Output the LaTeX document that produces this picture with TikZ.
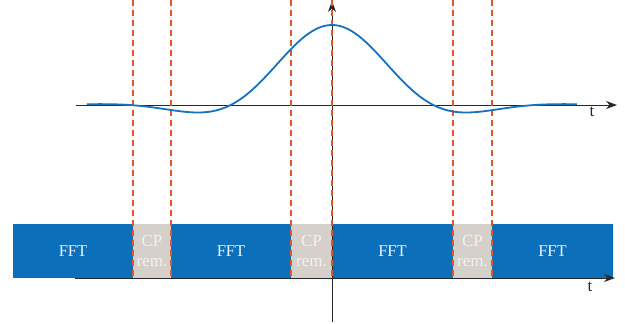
\documentclass[tikz,border=0pt]{standalone}
\usepackage{fontspec}
\setmainfont{Liberation Serif}
\usetikzlibrary{arrows.meta}
\definecolor{blk}{RGB}{12,111,185}
\definecolor{cpg}{RGB}{213,208,201}
\definecolor{red}{RGB}{226,86,46}
\definecolor{crv}{RGB}{22,114,189}
\definecolor{axc}{RGB}{40,40,40}
\definecolor{txt}{RGB}{242,242,242}
\tikzset{
  fftbox/.style={fill=blk, draw=none, inner sep=0pt, outer sep=0pt, minimum height=54pt, text=txt, font=\fontsize{16.5}{19}\selectfont},
  cpbox/.style={fill=cpg, draw=none, inner sep=0pt, outer sep=0pt, minimum height=54pt, text=txt, align=center, font=\fontsize{17}{19.5}\selectfont},
  axis/.style={draw=axc, line width=0.9pt, -{Stealth[length=11pt,width=8pt]}},
  guide/.style={draw=red, line width=2pt, dash pattern=on 5.5pt off 4.5pt},
  curve/.style={draw=crv, line width=1.8pt},
  tlab/.style={font=\fontsize{17}{19}\selectfont, text=axc, inner sep=0pt}
}
\begin{document}
\begin{tikzpicture}[x=1pt,y=-1pt]
\useasboundingbox (0,0) rectangle (625,324);
% blocks
\node[fftbox, minimum width=120pt] (f1) at (73,251) {FFT};
\node[cpbox, minimum width=38pt] (c1) at (152,251) {CP\\rem.};
\node[fftbox, minimum width=120pt] (f2) at (231,251) {FFT};
\node[cpbox, minimum width=41pt] (c2) at (311.5,251) {CP\\rem.};
\node[fftbox, minimum width=121pt] (f3) at (392.5,251) {FFT};
\node[cpbox, minimum width=39pt] (c3) at (472.5,251) {CP\\rem.};
\node[fftbox, minimum width=121pt] (f4) at (552.5,251) {FFT};
% axes
\coordinate (a0) at (76,105);
\coordinate (a1) at (617,105);
\coordinate (b0) at (75,278);
\coordinate (b1) at (615,278);
\coordinate (v0) at (332,322);
\coordinate (v1) at (332,1);
\draw[axis] (a0) -- (a1);
\draw[axis] (b0) -- (b1);
\draw[axis] (v0) -- (v1);
\node[tlab] (t1) at (592,112) {t};
\node[tlab] (t2) at (590,287) {t};
% guides
\foreach \gx/\nm in {133/g1,171/g2,291/g3,332/g4,453/g5,492/g6}{
  \coordinate (\nm a) at (\gx,0);
  \coordinate (\nm b) at (\gx,278);
  \draw[guide] (\nm a) -- (\nm b);
}
% pulse
\draw[curve] plot[domain=-2.42:2.42, samples=200, smooth]
  ({332+101.3*\x}, {105-80*sin(180*\x)/(3.14159*\x)*exp(-(\x/1.5)^2)});
\end{tikzpicture}
\end{document}
